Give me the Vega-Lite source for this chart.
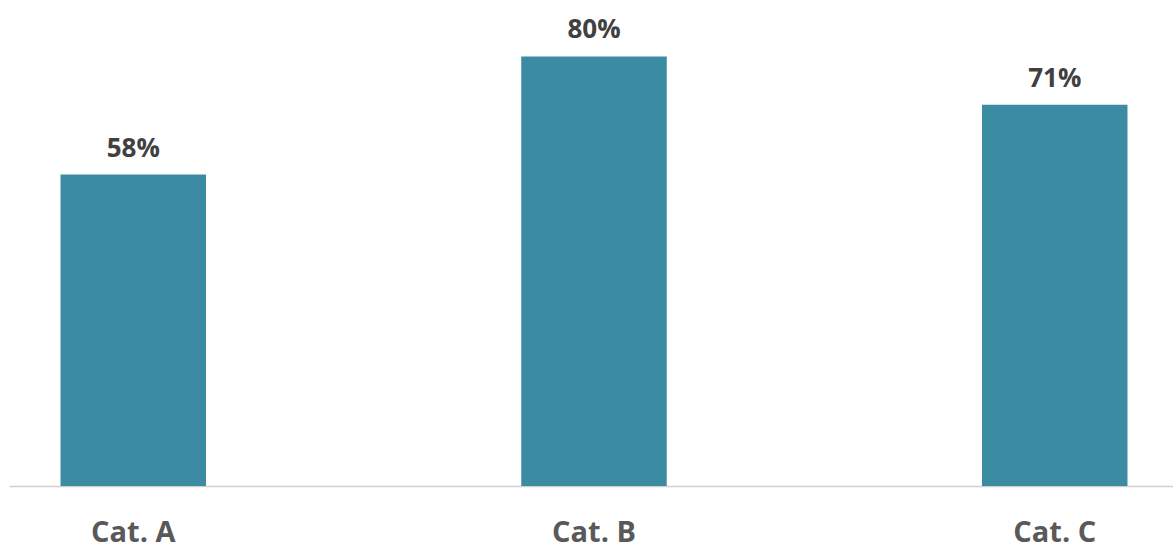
{
  "$schema": "https://vega.github.io/schema/vega-lite/v6.json",
  "width": 1164,
  "height": 486,
  "padding": {"left": 9, "top": 0, "right": 0, "bottom": 61},
  "autosize": {"type": "none"},
  "background": "#ffffff",
  "config": {"view": {"stroke": null}},
  "data": {
    "values": [
      {"category": "Cat. A", "share": 0.58},
      {"category": "Cat. B", "share": 0.80},
      {"category": "Cat. C", "share": 0.71}
    ]
  },
  "encoding": {
    "x": {
      "field": "category",
      "type": "nominal",
      "sort": null,
      "scale": {"paddingInner": 0.6842, "paddingOuter": 0.1053},
      "axis": {
        "title": null,
        "ticks": false,
        "grid": false,
        "domainColor": "#d0d0d0",
        "domainWidth": 1.5,
        "labelAngle": 0,
        "labelOffset": 3,
        "labelFont": "Open Sans",
        "labelFontWeight": "bold",
        "labelFontSize": 29,
        "labelColor": "#595959",
        "labelBaseline": "alphabetic",
        "labelPadding": 55
      }
    },
    "y": {
      "field": "share",
      "type": "quantitative",
      "scale": {"domain": [0, 0.905], "nice": false, "zero": true},
      "axis": null
    }
  },
  "layer": [
    {"mark": {"type": "bar", "color": "#3b8ba3", "xOffset": 3}},
    {
      "mark": {
        "type": "text",
        "baseline": "alphabetic",
        "dx": 3,
        "dy": -18,
        "font": "Open Sans",
        "fontWeight": "bold",
        "fontSize": 26,
        "color": "#404040"
      },
      "encoding": {"text": {"field": "share", "type": "quantitative", "format": ".0%"}}
    }
  ]
}
